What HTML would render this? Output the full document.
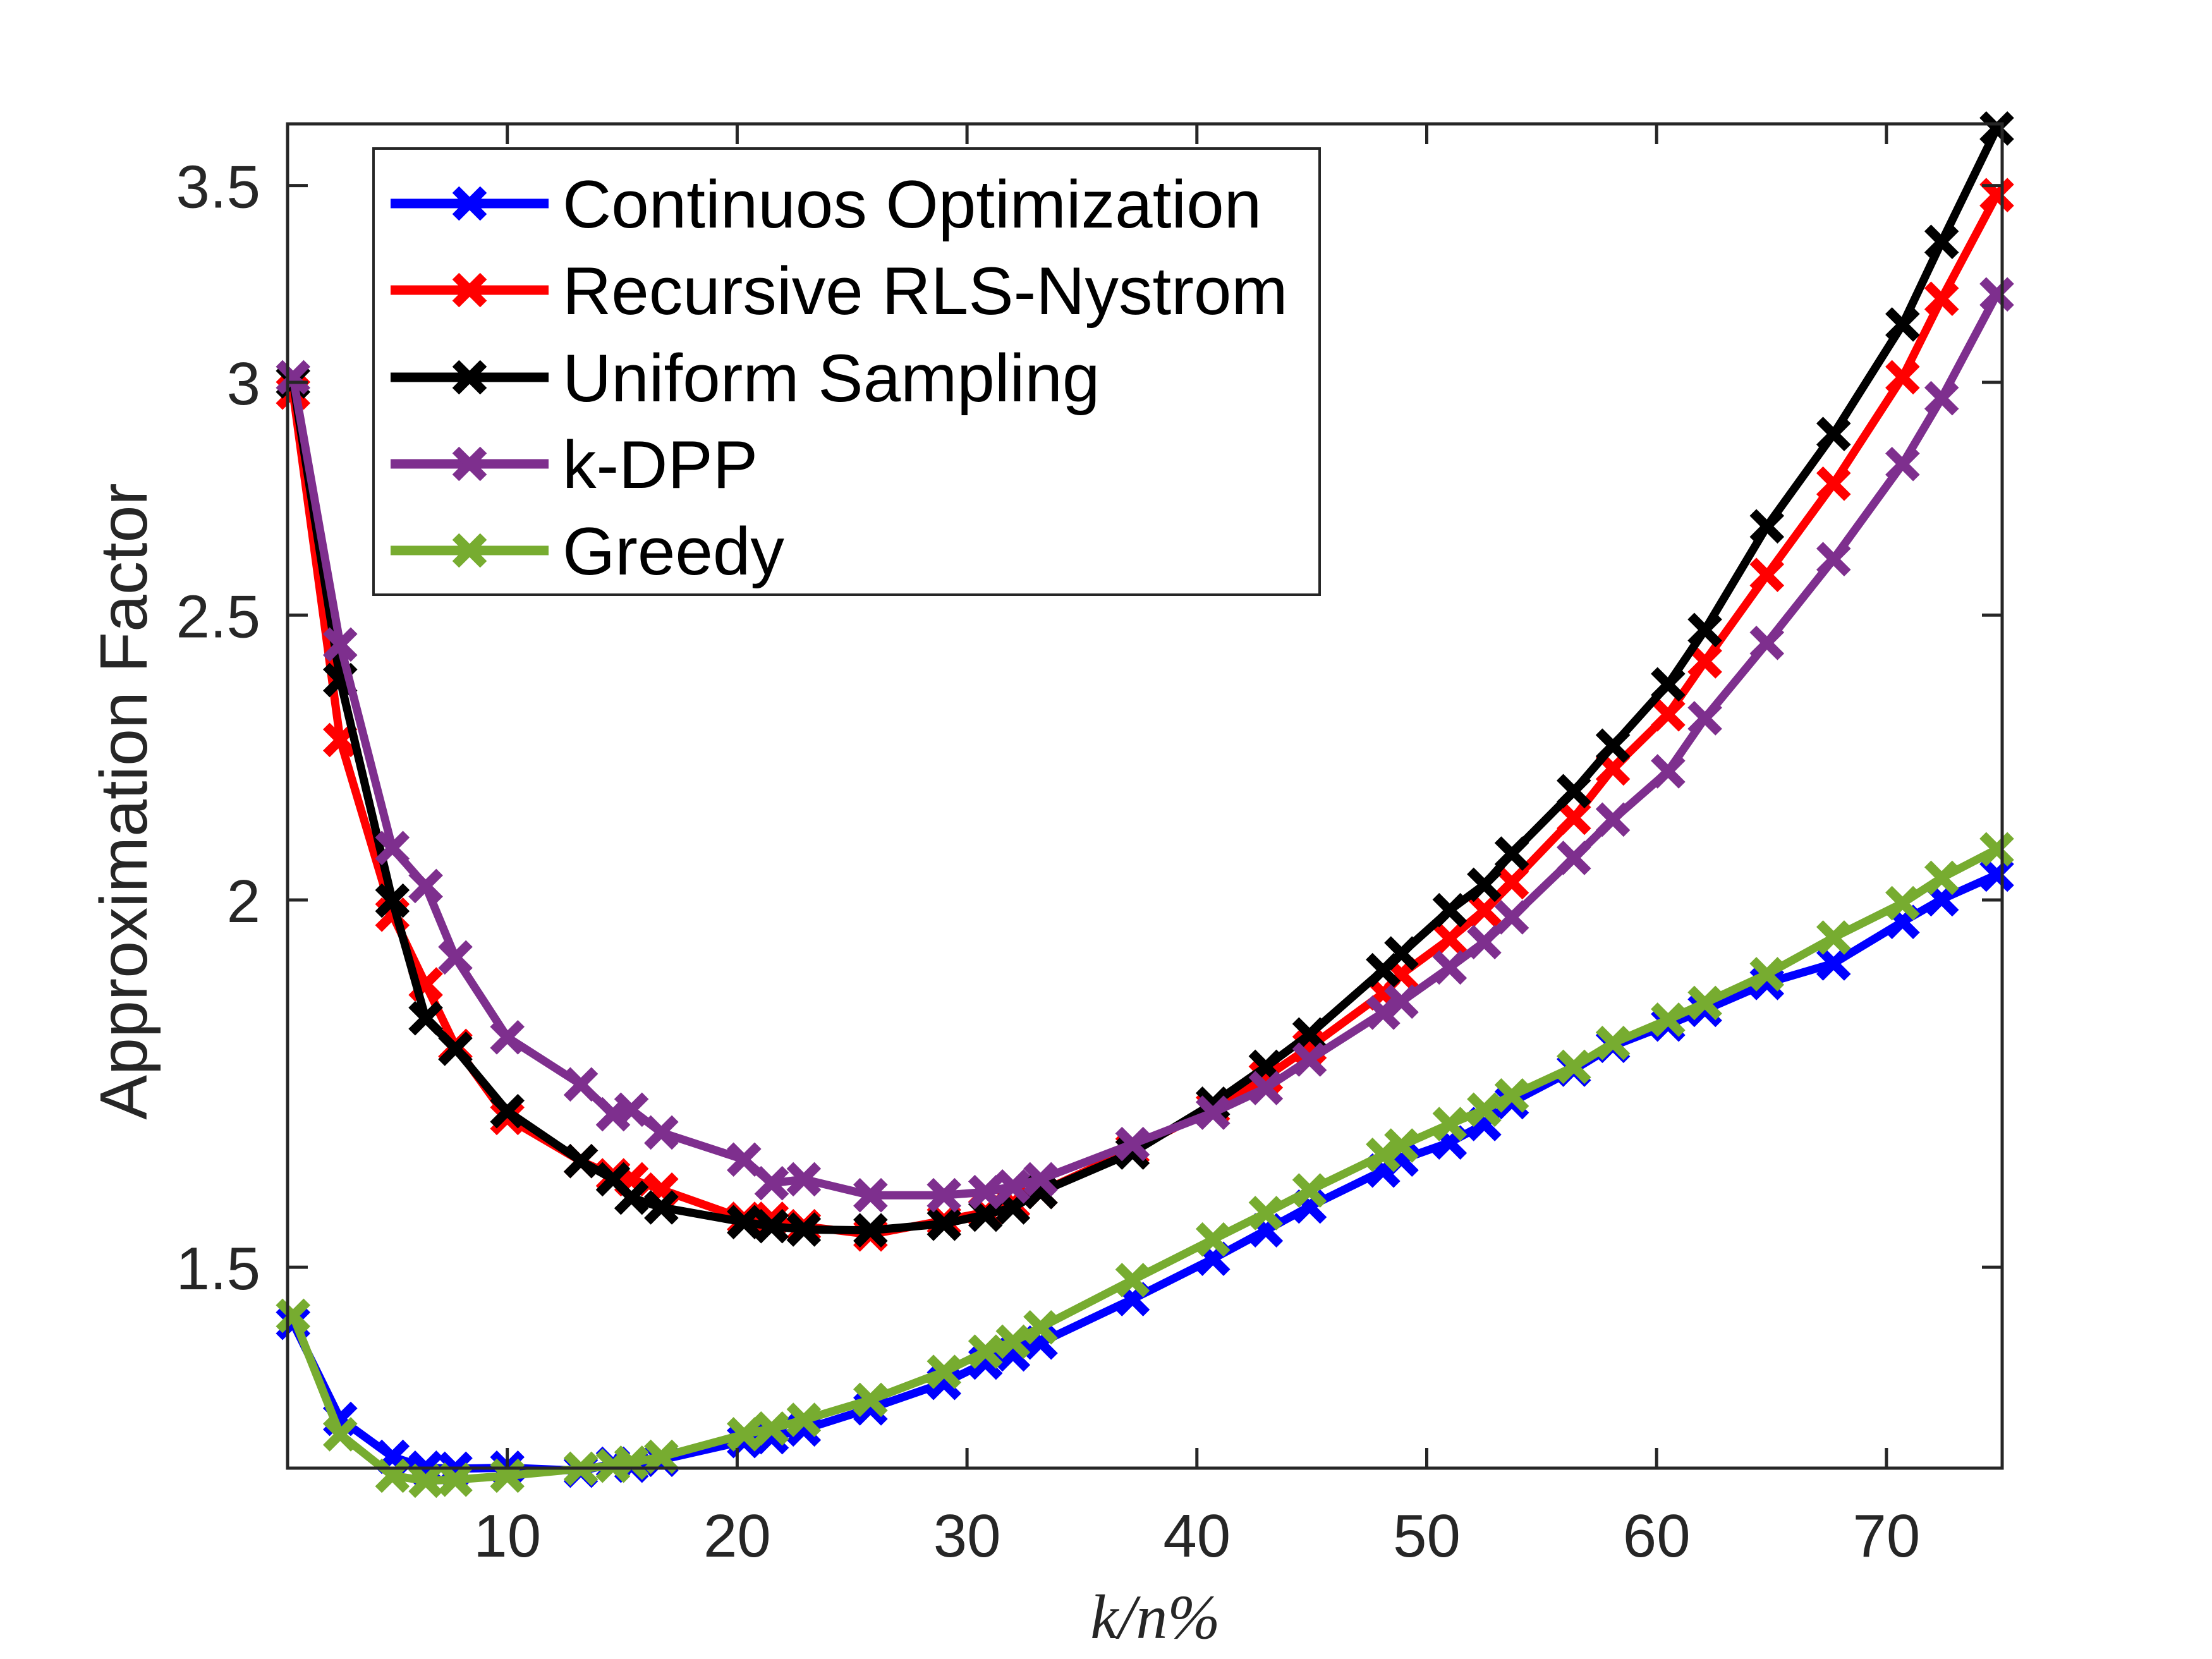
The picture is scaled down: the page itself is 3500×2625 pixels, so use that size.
<!DOCTYPE html>
<html><head><meta charset="utf-8"><style>
html,body{margin:0;padding:0;background:#fff;}
svg{display:block;}
</style></head><body>
<svg id="chart" width="3500" height="2625" viewBox="0 0 3500 2625" xmlns="http://www.w3.org/2000/svg" font-family="Liberation Sans, Arial, sans-serif">
<rect width="3500" height="2625" fill="#fff"/>
<g id="plot"></g>
<g id="axes"></g>
<g id="legend"></g>
<text x="0" y="0" transform="translate(232,1268) rotate(-90)" text-anchor="middle" font-size="106" fill="#262626">Approximation Factor</text>
<text x="1828" y="2592" text-anchor="middle" font-size="100" font-family="Liberation Serif, serif" font-style="italic" fill="#262626">k/n%</text>
</svg>
<script>
const xVals = [0.68,2.73,5.0,6.45,7.74,10,13.2,14.6,15.4,16.7,20.3,21.5,22.9,25.8,29.0,30.8,32.0,33.2,37.2,40.7,43.0,44.9,48.1,48.9,51.0,52.5,53.7,56.4,58.1,60.5,62.1,64.8,67.7,70.7,72.4,74.8];
const continuousVals = [1.436,1.332,1.293,1.282,1.281,1.282,1.279,1.286,1.284,1.290,1.309,1.313,1.321,1.343,1.370,1.392,1.401,1.414,1.463,1.510,1.544,1.573,1.618,1.632,1.654,1.678,1.707,1.751,1.784,1.814,1.835,1.874,1.903,1.966,2.001,2.040];
const recursiveVals = [2.976,2.267,1.977,1.872,1.784,1.686,1.630,1.612,1.607,1.594,1.558,1.558,1.549,1.539,1.556,1.566,1.577,1.591,1.645,1.699,1.741,1.782,1.859,1.887,1.940,1.984,2.028,2.133,2.217,2.313,2.411,2.580,2.771,3.012,3.203,3.474];
const uniformVals = [3.002,2.376,1.999,1.823,1.780,1.695,1.630,1.607,1.584,1.572,1.554,1.549,1.545,1.544,1.552,1.563,1.572,1.591,1.641,1.705,1.755,1.800,1.893,1.918,1.984,2.024,2.074,2.178,2.257,2.368,2.471,2.680,2.881,3.139,3.349,3.660];
const kdppVals = [3.012,2.443,2.083,2.022,1.912,1.796,1.731,1.691,1.697,1.667,1.632,1.602,1.607,1.587,1.587,1.591,1.598,1.607,1.652,1.693,1.726,1.765,1.831,1.847,1.897,1.935,1.973,2.067,2.130,2.212,2.306,2.446,2.612,2.814,2.963,3.214];
const greedyVals = [1.444,1.316,1.274,1.269,1.270,1.274,1.281,1.284,1.287,1.293,1.316,1.322,1.331,1.352,1.382,1.404,1.415,1.431,1.485,1.533,1.565,1.593,1.638,1.650,1.678,1.697,1.716,1.755,1.788,1.821,1.845,1.887,1.942,1.995,2.035,2.081];
const seriesNames = ["Continuos Optimization","Recursive RLS-Nystrom","Uniform Sampling","k-DPP","Greedy"];
const xTicks = [10,20,30,40,50,60,70];
const yTicks = [1.5,2,2.5,3,3.5];

const NS="http://www.w3.org/2000/svg";
const L=455,R=3168,T=196,B=2323;
function X(x){return 439+36.37*x;}
function Y(v){return 1424-2020*Math.log(v/2);}
function mk(tag,attrs,parent){const e=document.createElementNS(NS,tag);for(const k in attrs)e.setAttribute(k,attrs[k]);parent.appendChild(e);return e;}

const colors=["#0000ff","#ff0000","#000000","#7e2f8e","#77ac30"];
const data=[continuousVals,recursiveVals,uniformVals,kdppVals,greedyVals];
const keys=["continuous","recursive","uniform","kdpp","greedy"];
const plot=document.getElementById('plot');
function marker(g,cx,cy,c){
  const s=22;
  return mk('path',{d:`M${cx-s},${cy-s}L${cx+s},${cy+s}M${cx-s},${cy+s}L${cx+s},${cy-s}`,stroke:c,'stroke-width':15,fill:'none'},g);
}
[0,1,2,3,4].forEach(i=>{
  const g=mk('g',{},plot);
  
  
  const pts=xVals.map((x,j)=>X(x).toFixed(1)+','+Y(data[i][j]).toFixed(1)).join(' ');
  const line=mk('polyline',{points:pts,fill:'none',stroke:colors[i],'stroke-width':13,'stroke-linejoin':'round'},g);
  
  
  xVals.forEach((x,j)=>{
    const m=marker(g,X(x),Y(data[i][j]),colors[i]);
    
    
  });
});

const axes=document.getElementById('axes');
const frame=mk('rect',{x:L,y:T,width:R-L,height:B-T,fill:'none',stroke:'#262626','stroke-width':5},axes);


xTicks.forEach(t=>{
  const x=X(t);
  mk('line',{x1:x,y1:B,x2:x,y2:B-32,stroke:'#262626','stroke-width':5},axes);
  mk('line',{x1:x,y1:T,x2:x,y2:T+32,stroke:'#262626','stroke-width':5},axes);
  const tx=mk('text',{x:x,y:2463,'text-anchor':'middle','font-size':96,fill:'#262626'},axes);
  tx.textContent=t;
  
  
});
yTicks.forEach(t=>{
  const y=Y(t);
  mk('line',{x1:L,y1:y,x2:L+32,y2:y,stroke:'#262626','stroke-width':5},axes);
  mk('line',{x1:R,y1:y,x2:R-32,y2:y,stroke:'#262626','stroke-width':5},axes);
  const tx=mk('text',{x:412,y:y+35,'text-anchor':'end','font-size':96,fill:'#262626'},axes);
  tx.textContent=t;
  
  
});

const leg=document.getElementById('legend');


mk('rect',{x:591,y:235,width:1497,height:706,fill:'#fff',stroke:'#262626','stroke-width':4},leg);
const rows=[322,459,597,734,871];
seriesNames.forEach((n,i)=>{
  const g=mk('g',{},leg);
  
  
  mk('line',{x1:618,y1:rows[i],x2:868,y2:rows[i],stroke:colors[i],'stroke-width':15},g);
  marker(g,743,rows[i],colors[i]);
  const tx=mk('text',{x:890,y:rows[i]+38,'font-size':107,fill:'#000'},g);
  tx.textContent=n;
});
</script>
</body></html>
